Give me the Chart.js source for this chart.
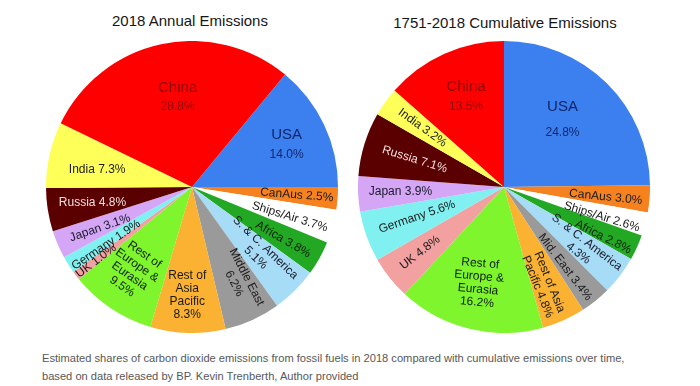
<!DOCTYPE html>
<html><head><meta charset="utf-8">
<script src="https://cdn.jsdelivr.net/npm/chart.js@4.4.1/dist/chart.umd.min.js"></script>
<style>
body{margin:0;background:#fff;width:700px;height:386px;overflow:hidden;position:relative;font-family:"Liberation Sans",Arial,sans-serif;}
.t{position:absolute;font-size:15px;line-height:18px;color:#161616;text-align:center;width:320px;}
.box{position:absolute;width:292px;height:292px;top:41px;}
.cap{position:absolute;left:42px;font-size:11px;line-height:13px;color:#585858;white-space:nowrap;}
</style></head><body>
<div class="t" style="left:30px;top:12px">2018 Annual Emissions</div>
<div class="t" style="left:345px;top:14px">1751-2018 Cumulative Emissions</div>
<div class="box" style="left:46px"><canvas id="c1" width="292" height="292"></canvas></div>
<div class="box" style="left:358px"><canvas id="c2" width="292" height="292"></canvas></div>
<div class="cap" id="cap1" style="top:352px">Estimated shares of carbon dioxide emissions from fossil fuels in 2018 compared with cumulative emissions over time,</div>
<div class="cap" id="cap2" style="top:370px">based on data released by BP. Kevin Trenberth, Author provided</div>
<script>
const categories = ["USA","CanAus","Ships/Air","Africa","S. & C. America","Middle East","Rest of Asia Pacific","Rest of Europe & Eurasia","UK","Germany","Japan","Russia","India","China"];
const annual2018 = [14.0,2.5,3.7,3.8,5.1,6.2,8.3,9.5,1.0,1.9,3.1,4.8,7.3,28.8];
const cumulative = [24.8,3.0,2.6,2.8,4.3,3.4,4.8,16.2,4.8,5.6,3.9,7.1,3.2,13.5];

const annualLabels = [["USA","{v}"],["CanAus {v}"],["Ships/Air {v}"],["Africa {v}"],["S. & C. America","{v}"],["Middle East","{v}"],["Rest of","Asia","Pacific","{v}"],["Rest of","Europe &","Eurasia","{v}"],["UK {v}"],["Germany {v}"],["Japan {v}"],["Russia {v}"],["India {v}"],["China","{v}"]];
const cumulativeLabels = [["USA","{v}"],["CanAus {v}"],["Ships/Air {v}"],["Africa {v}"],["S. & C. America","{v}"],["Mid. East {v}"],["Rest of Asia","Pacific {v}"],["Rest of","Europe &","Eurasia","{v}"],["UK {v}"],["Germany {v}"],["Japan {v}"],["Russia {v}"],["India {v}"],["China","{v}"]];

const sliceColors = ["#3c80f0","#f5821f","#ffffff","#22a822","#a6dcf5","#9a9a9a","#fbb131","#7ef52c","#f2a0a0","#80f0f0","#d4a6f5","#5a0000","#ffff5a","#ff0000"];
const textColors = ["#10266a","#1a1a1a","#1a1a1a","#0f1f0f","#1a1a2a","#1a1a1a","#1a1a1a","#102010","#1a1a1a","#1a1a1a","#1a1a2a","#f3dede","#1a1a1a","#8a0a0a"];

const layoutA = {
  t:[0.52,0.49,0.6,0.56,0.43,0.37,0.53,0.54,0.44,0.24,0.43,0.5,0.4,0.53],
  r:[0.71,0.72,0.70,0.72,0.65,0.72,0.74,0.70,0.83,0.71,0.69,0.69,0.66,0.62],
  rot:[0,'r','r','r','r','r',0,35,'r','r',-19,0,0,0],
  lh:[20,13,13,13,14,14,13,13,13,13,13,13,13,19]
};
const layoutB = {
  t:[0.46,0.59,0.74,0.73,0.53,0.63,0.62,0.52,0.53,0.54,0.5,0.5,0.53,0.53],
  r:[0.61,0.70,0.70,0.76,0.68,0.69,0.72,0.68,0.73,0.63,0.71,0.64,0.69,0.67],
  rot:[0,'r','r','r','r','r','r',5,'r','r',0,'r','r',0],
  lh:[26,13,13,13,14,13,13,13,13,13,13,13,13,20]
};

const labelPlugin = {
  id:'sliceLabels',
  afterDatasetsDraw(chart, args, opts){
    const ctx = chart.ctx, meta = chart.getDatasetMeta(0);
    const L = opts.layout, lines = opts.lines, vals = chart.data.datasets[0].data;
    meta.data.forEach((arc,i)=>{
      const p = arc.getProps(['x','y','startAngle','endAngle','outerRadius'], true);
      const a = p.startAngle + L.t[i]*(p.endAngle-p.startAngle);
      const rr = L.r[i]*p.outerRadius;
      const cx = p.x + Math.cos(a)*rr, cy = p.y + Math.sin(a)*rr;
      let rot;
      if (L.rot[i]==='r'){
        rot = Math.atan2(Math.sin(a), Math.cos(a));
        if (rot > Math.PI/2) rot -= Math.PI;
        if (rot < -Math.PI/2) rot += Math.PI;
      } else rot = L.rot[i]*Math.PI/180;
      const ls = lines[i].map(s=>s.replace('{v}', vals[i].toFixed(1)+'%'));
      const big = (categories[i]==='China'||categories[i]==='USA');
      const lh = L.lh[i];
      ctx.save();
      ctx.translate(cx, cy);
      ctx.rotate(rot);
      ctx.fillStyle = textColors[i];
      ctx.textAlign = 'center';
      ctx.textBaseline = 'middle';
      const h = (ls.length-1)*lh;
      ls.forEach((s,k)=>{
        const size = (big && k===0) ? 15 : 12;
        ctx.font = size+'px "Liberation Sans", Arial, sans-serif';
        ctx.fillText(s, 0, -h/2 + k*lh);
      });
      ctx.restore();
    });
  }
};

function makePie(id, values, rotation, layout, lines){
  new Chart(document.getElementById(id), {
    type:'pie',
    data:{labels:categories, datasets:[{data:values, backgroundColor:sliceColors, borderWidth:0}]},
    options:{
      responsive:false, animation:false, devicePixelRatio:1,
      rotation: rotation,
      layout:{padding:0},
      plugins:{legend:{display:false}, tooltip:{enabled:false}, title:{display:false},
        sliceLabels:{layout:layout, lines:lines}}
    },
    plugins:[labelPlugin]
  });
}
makePie('c1', annual2018, 90 - annual2018[0]*3.6, layoutA, annualLabels);
makePie('c2', cumulative, 0, layoutB, cumulativeLabels);

// fit caption width to the reference line length
const cap1 = document.getElementById('cap1'), cap2 = document.getElementById('cap2');
const w = cap1.getBoundingClientRect().width;
const fs = 11 * 583 / w;
cap1.style.fontSize = fs + 'px';
cap2.style.fontSize = fs + 'px';
</script>
</body></html>
